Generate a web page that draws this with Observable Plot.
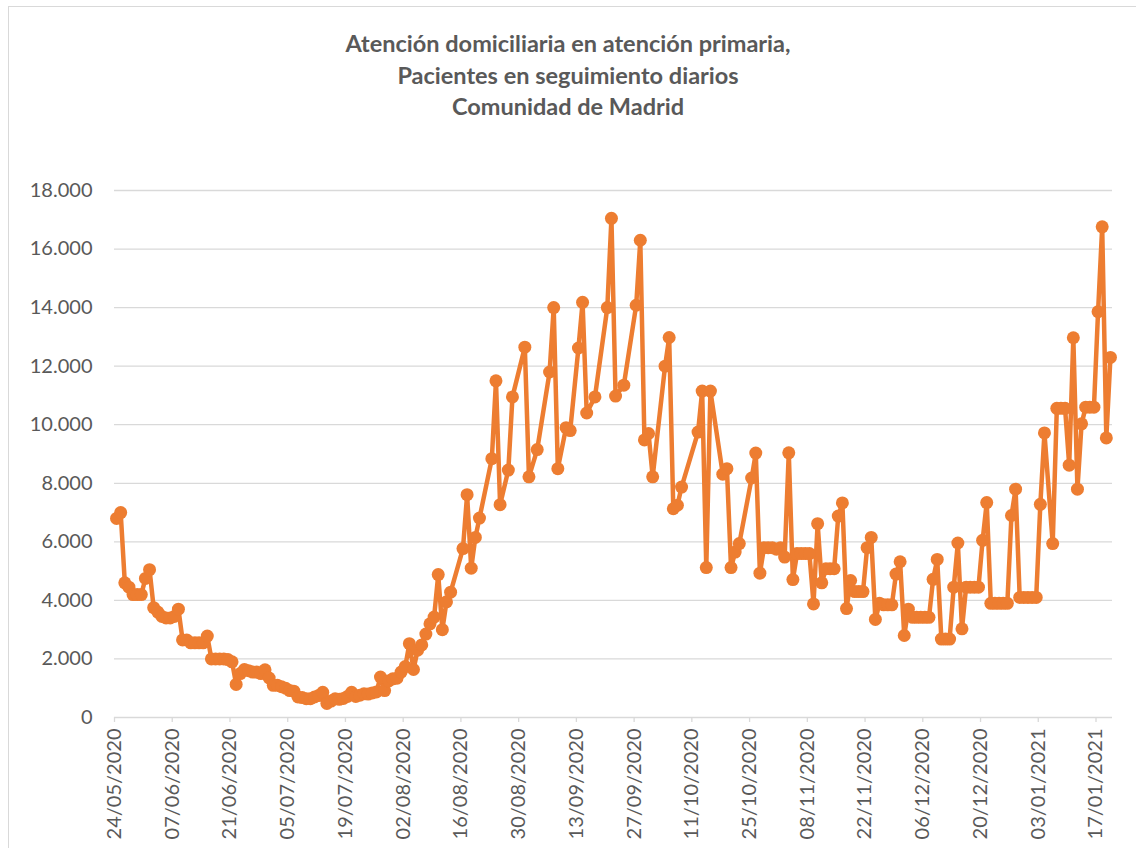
<!DOCTYPE html>
<html><head><meta charset="utf-8">
<script src="https://cdn.jsdelivr.net/npm/d3@7"></script>
<script src="https://cdn.jsdelivr.net/npm/@observablehq/plot@0.6"></script>
<style>
body{margin:0;background:#fff;font-family:Lato,"Open Sans",sans-serif;width:1136px;height:848px;overflow:hidden;position:relative;}
#frame{position:absolute;left:8px;top:6px;width:1140px;height:850px;border:1px solid #d9d9d9;box-sizing:border-box;}
#title{position:absolute;left:0;top:28px;width:1136px;text-align:center;font-weight:bold;font-size:23.5px;line-height:31.5px;color:#595959;}
#chart{position:absolute;left:0;top:140px;}
</style></head><body>
<div id="frame"></div>
<div id="title">Atención domiciliaria en atención primaria,<br>Pacientes en seguimiento diarios<br>Comunidad de Madrid</div>
<div id="chart"></div>
<script>
const dates = [
"2020-05-24","2020-05-25","2020-05-26","2020-05-27","2020-05-28","2020-05-29","2020-05-30","2020-05-31",
"2020-06-01","2020-06-02","2020-06-03","2020-06-04","2020-06-05","2020-06-06","2020-06-07","2020-06-08",
"2020-06-09","2020-06-10","2020-06-11","2020-06-12","2020-06-13","2020-06-14","2020-06-15","2020-06-16",
"2020-06-17","2020-06-18","2020-06-19","2020-06-20","2020-06-21","2020-06-22","2020-06-23","2020-06-24",
"2020-06-25","2020-06-26","2020-06-27","2020-06-28","2020-06-29","2020-06-30",
"2020-07-01","2020-07-02","2020-07-03","2020-07-04","2020-07-05","2020-07-06","2020-07-07","2020-07-08",
"2020-07-09","2020-07-10","2020-07-11","2020-07-12","2020-07-13","2020-07-14","2020-07-15","2020-07-16",
"2020-07-17","2020-07-18","2020-07-19","2020-07-20","2020-07-21","2020-07-22","2020-07-23","2020-07-24",
"2020-07-25","2020-07-26","2020-07-27","2020-07-28","2020-07-29","2020-07-30","2020-07-31",
"2020-08-01","2020-08-02","2020-08-03","2020-08-04","2020-08-05","2020-08-06","2020-08-07","2020-08-08",
"2020-08-09","2020-08-10","2020-08-11","2020-08-12","2020-08-13","2020-08-16","2020-08-17","2020-08-18",
"2020-08-19","2020-08-20","2020-08-23","2020-08-24","2020-08-25","2020-08-27","2020-08-28","2020-08-31",
"2020-09-01","2020-09-03","2020-09-06","2020-09-07","2020-09-08","2020-09-10","2020-09-11","2020-09-13",
"2020-09-14","2020-09-15","2020-09-17","2020-09-20","2020-09-21","2020-09-22","2020-09-24","2020-09-27",
"2020-09-28","2020-09-29","2020-09-30",
"2020-10-01","2020-10-04","2020-10-05","2020-10-06","2020-10-07","2020-10-08","2020-10-12","2020-10-13",
"2020-10-14","2020-10-15","2020-10-18","2020-10-19","2020-10-20","2020-10-21","2020-10-22","2020-10-25",
"2020-10-26","2020-10-27","2020-10-28","2020-10-29","2020-10-30","2020-10-31",
"2020-11-01","2020-11-02","2020-11-03","2020-11-04","2020-11-05","2020-11-06","2020-11-07","2020-11-08",
"2020-11-09","2020-11-10","2020-11-11","2020-11-12","2020-11-13","2020-11-14","2020-11-15","2020-11-16",
"2020-11-17","2020-11-18","2020-11-19","2020-11-20","2020-11-21","2020-11-22","2020-11-23","2020-11-24",
"2020-11-25","2020-11-26","2020-11-27","2020-11-28","2020-11-29","2020-11-30",
"2020-12-01","2020-12-02","2020-12-03","2020-12-04","2020-12-05","2020-12-06","2020-12-07","2020-12-08",
"2020-12-09","2020-12-10","2020-12-11","2020-12-12","2020-12-13","2020-12-14","2020-12-15","2020-12-16",
"2020-12-17","2020-12-18","2020-12-19","2020-12-20","2020-12-21","2020-12-22","2020-12-23","2020-12-24",
"2020-12-25","2020-12-26","2020-12-27","2020-12-28","2020-12-29","2020-12-30","2020-12-31",
"2021-01-01","2021-01-02","2021-01-03","2021-01-04","2021-01-06","2021-01-07","2021-01-08","2021-01-09",
"2021-01-10","2021-01-11","2021-01-12","2021-01-13","2021-01-14","2021-01-15","2021-01-16","2021-01-17",
"2021-01-18","2021-01-19","2021-01-20"
];
const values = [
6800,7000,4600,4450,4200,4200,4200,4750,
5050,3750,3600,3450,3400,3400,3450,3700,
2650,2650,2550,2550,2550,2550,2780,2000,
2000,2000,2000,1980,1900,1130,1500,1640,
1600,1550,1550,1500,1630,1350,
1100,1100,1050,1000,920,900,700,680,
640,640,700,750,860,480,560,640,
620,650,720,860,720,760,810,800,
840,870,1380,920,1250,1320,1340,
1550,1740,2520,1640,2300,2480,2850,3200,
3430,4880,3000,3950,4280,5770,7610,5100,
6150,6810,8840,11500,7270,8450,10950,12650,
8220,9150,11800,14000,8500,9900,9800,12620,
14180,10400,10950,14000,17050,10980,11350,14080,
16300,9480,9700,
8220,12000,12980,7130,7250,7870,9750,11150,
5120,11150,8310,8500,5120,5650,5940,8180,
9030,4930,5800,5800,5800,5750,
5800,5480,9040,4710,5600,5600,5600,5600,
3880,6620,4600,5080,5080,5080,6880,7330,
3720,4680,4300,4300,4300,5800,6150,3350,
3900,3850,3850,3850,4900,5320,
2800,3700,3420,3420,3420,3420,3420,4720,
5400,2680,2680,2680,4450,5960,3030,4450,
4450,4450,4450,6050,7340,3900,3900,3900,
3900,3900,6900,7800,4100,4100,4100,
4100,4100,7280,9720,5940,10560,10560,10560,
8620,12970,7800,10030,10600,10600,10600,13860,
16760,9550,12300
];
const tickLabels = ["24/05/2020","07/06/2020","21/06/2020","05/07/2020","19/07/2020","02/08/2020",
"16/08/2020","30/08/2020","13/09/2020","27/09/2020","11/10/2020","25/10/2020","08/11/2020",
"22/11/2020","06/12/2020","20/12/2020","03/01/2021","17/01/2021"];
const yTicks = [0,2000,4000,6000,8000,10000,12000,14000,16000,18000];
const xStart = "2020-05-24", xEnd = "2021-01-21";

const parseTick = d3.utcParse("%d/%m/%Y");
const fmtTick = d3.utcFormat("%d/%m/%Y");
const tickDates = tickLabels.map(parseTick);
const data = dates.map((d, i) => ({date: new Date(d + "T12:00:00Z"), value: values[i]}));
const fmtY = d => d3.format(",")(d).replace(/,/g, ".");

const chart = Plot.plot({
  width: 1136, height: 708,
  marginLeft: 114, marginRight: 24, marginTop: 50, marginBottom: 131,
  style: {fontFamily: "Lato, 'Open Sans', sans-serif", fontSize: "20px", color: "#595959", background: "transparent", overflow: "visible"},
  x: {type: "utc", domain: [new Date(xStart + "T00:00:00Z"), new Date(xEnd + "T00:00:00Z")]},
  y: {domain: [0, 18000]},
  marks: [
    Plot.gridY(yTicks.slice(1), {stroke: "#d9d9d9", strokeOpacity: 1, strokeWidth: 1.3}),
    Plot.ruleY([0], {stroke: "#d9d9d9", strokeWidth: 1.5}),
    Plot.axisY(yTicks, {tickSize: 0, tickPadding: 22, tickFormat: fmtY, fontSize: 20, fill: "#595959", label: null}),
    Plot.axisX(tickDates, {tickSize: 5, stroke: "#d9d9d9", strokeWidth: 1.3, tickPadding: 6, tickRotate: -90, tickFormat: fmtTick, fontSize: 20, fill: "#595959", label: null}),
    Plot.line(data, {x: "date", y: "value", stroke: "#ED7D31", strokeWidth: 4.5, strokeLinejoin: "round"}),
    Plot.dot(data, {x: "date", y: "value", r: 6.5, fill: "#ED7D31"})
  ]
});
document.getElementById("chart").appendChild(chart);
</script>
</body></html>
